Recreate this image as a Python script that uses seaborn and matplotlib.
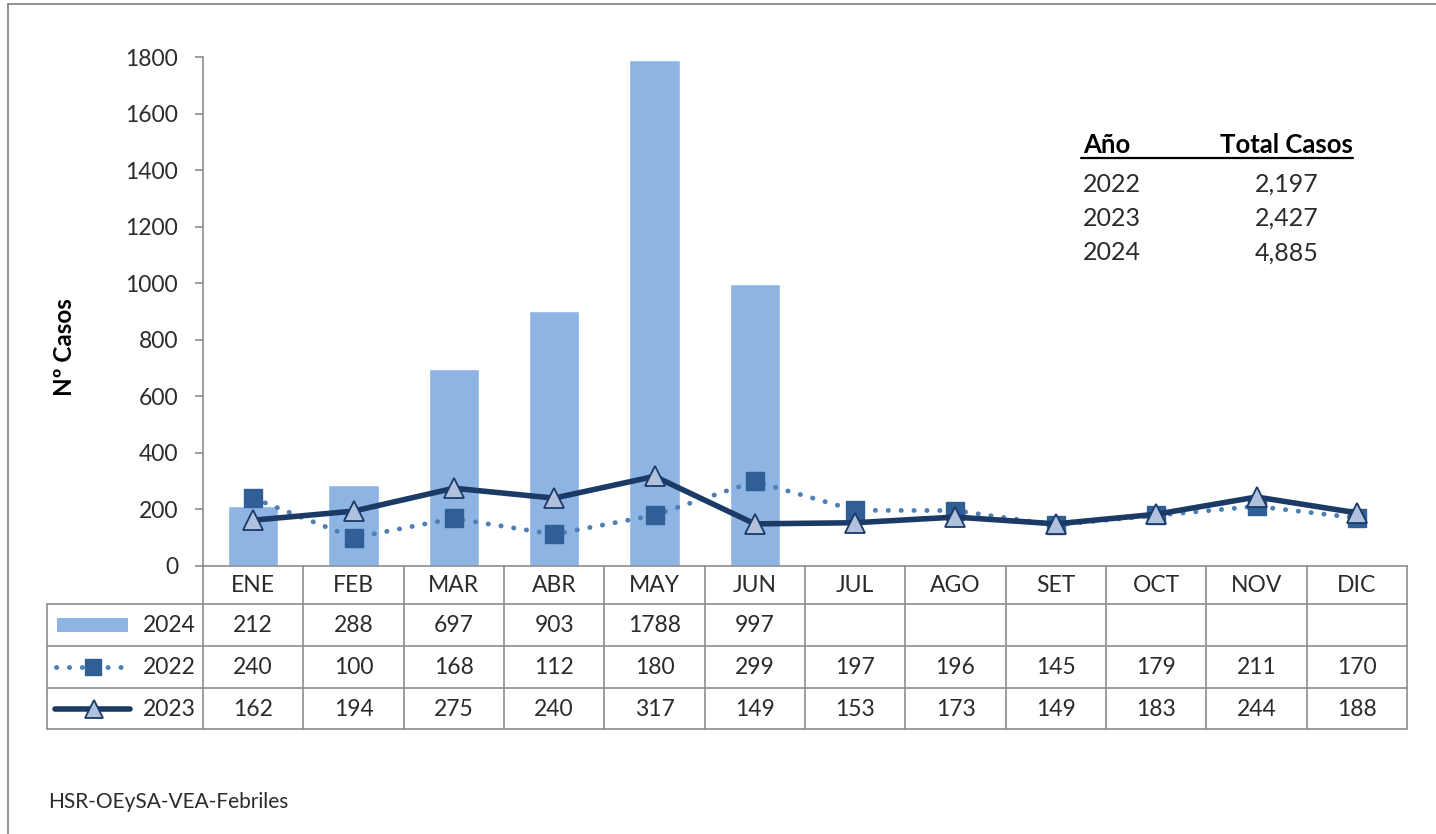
import numpy as np
import pandas as pd
import matplotlib
matplotlib.use("Agg")
import matplotlib.pyplot as plt
from matplotlib.lines import Line2D
from matplotlib.patches import Rectangle
import seaborn as sns

months = ["ENE", "FEB", "MAR", "ABR", "MAY", "JUN", "JUL", "AGO", "SET", "OCT", "NOV", "DIC"]
v2024 = [212, 288, 697, 903, 1788, 997, None, None, None, None, None, None]
v2022 = [240, 100, 168, 112, 180, 299, 197, 196, 145, 179, 211, 170]
v2023 = [162, 194, 275, 240, 317, 149, 153, 173, 149, 183, 244, 188]
tot_years = ["2022", "2023", "2024"]
tot_vals = ["2,197", "2,427", "4,885"]
ylabel = "Nº Casos"
source = "HSR-OEySA-VEA-Febriles"

sns.set_theme(style="white")
plt.rcParams["font.family"] = ["Lato", "DejaVu Sans"]

W, H = 1436, 834
fig = plt.figure(figsize=(W / 100, H / 100), dpi=100)

def fx(px):
    return px / W

def fy(py):
    return 1 - py / H

AX_L, AX_R, AX_T, AX_B = 203, 1407, 57, 566
ax = fig.add_axes([fx(AX_L), fy(AX_B), fx(AX_R) - fx(AX_L), fy(AX_T) - fy(AX_B)])

BAR_C = "#8DB4E2"
L22_C = "#4F7FB5"
M22_C = "#2F5F96"
L23_C = "#1B3A66"
TRI_C = "#AFC1DC"
GRID_C = "#8C8C8C"
TXT_C = "#2b2b2b"
FS = 16.5

df = pd.DataFrame({"mes": months, "v": [np.nan if v is None else v for v in v2024]})
sns.barplot(data=df, x="mes", y="v", order=months, color=BAR_C, saturation=1,
            width=0.5, ax=ax, zorder=1)

xpos = np.arange(len(months))
sns.lineplot(x=xpos, y=v2022, ax=ax, color=L22_C, lw=3.5, zorder=3,
             linestyle=(0, (0.05, 2.6)), dash_capstyle="round")
ax.plot(xpos, v2022, ls="none", marker="s", ms=13, mfc=M22_C, mec=M22_C, zorder=4)
sns.lineplot(x=xpos, y=v2023, ax=ax, color=L23_C, lw=4.0, zorder=5)
ax.plot(xpos, v2023, ls="none", marker="^", ms=15, mfc=TRI_C, mec=L23_C, mew=1.3, zorder=6)

ax.set_xlim(-0.5, 11.5)
ax.set_ylim(0, 1800)
ax.set_yticks(range(0, 1801, 200))
ax.set_xticks([])
ax.set_xlabel("")
ax.set_ylabel("")
for s in ["top", "right"]:
    ax.spines[s].set_visible(False)
for s in ["left", "bottom"]:
    ax.spines[s].set_color(GRID_C)
    ax.spines[s].set_linewidth(1.2)
ax.tick_params(axis="y", which="both", left=True, length=6, width=1.2, color=GRID_C,
               direction="out", pad=12, labelsize=FS, labelcolor=TXT_C)

fig.text(fx(64), fy(347), ylabel, rotation=90, ha="center", va="center",
         fontsize=17.5, fontweight="bold", color="black")

# data table
colw = (AX_R - AX_L) / 12
rows_y = [566, 604, 646, 688, 729]
TL = 47

def hline(x0, x1, y):
    fig.add_artist(Line2D([fx(x0), fx(x1)], [fy(y), fy(y)], color=GRID_C, lw=1.2))

def vline(x, y0, y1):
    fig.add_artist(Line2D([fx(x), fx(x)], [fy(y0), fy(y1)], color=GRID_C, lw=1.2))

for y in rows_y[1:]:
    hline(TL, AX_R, y)
for k in range(13):
    vline(AX_L + colw * k, 566, 729)
vline(TL, 604, 729)

hdr_c = (566 + 604) / 2
for i, m in enumerate(months):
    fig.text(fx(AX_L + colw * (i + 0.5)), fy(hdr_c + 1), m, ha="center", va="center",
             fontsize=FS, color=TXT_C)

series_rows = [("2024", v2024), ("2022", v2022), ("2023", v2023)]
for r, (lab, vals) in enumerate(series_rows):
    yc = (rows_y[r + 1] + rows_y[r + 2]) / 2
    fig.text(fx(196), fy(yc + 1), lab, ha="right", va="center", fontsize=FS, color=TXT_C)
    for i, v in enumerate(vals):
        if v is None:
            continue
        fig.text(fx(AX_L + colw * (i + 0.5)), fy(yc + 1), str(v), ha="center", va="center",
                 fontsize=FS, color=TXT_C)

# legend keys
yc0 = (rows_y[1] + rows_y[2]) / 2
fig.add_artist(Rectangle((fx(57), fy(yc0 + 7)), fx(128) - fx(57), fy(yc0 - 7) - fy(yc0 + 7),
                         color=BAR_C, lw=0))
yc1 = (rows_y[2] + rows_y[3]) / 2
fig.add_artist(Line2D([fx(56), fx(130)], [fy(yc1), fy(yc1)], color=L22_C, lw=3.5,
                      linestyle=(0, (0.05, 2.6)), dash_capstyle="round"))
fig.add_artist(Line2D([fx(93)], [fy(yc1)], ls="none", marker="s", ms=11, mfc=M22_C, mec=M22_C))
yc2 = (rows_y[3] + rows_y[4]) / 2
fig.add_artist(Line2D([fx(55), fx(130)], [fy(yc2), fy(yc2)], color=L23_C, lw=4.0,
                      solid_capstyle="round"))
fig.add_artist(Line2D([fx(94)], [fy(yc2)], ls="none", marker="^", ms=13, mfc=TRI_C,
                      mec=L23_C, mew=1.3))

# totals inset
fig.text(fx(1083), fy(145), "Año", ha="left", va="center", fontsize=18.5,
         fontweight="bold", color="black")
fig.text(fx(1353), fy(145), "Total Casos", ha="right", va="center", fontsize=18.5,
         fontweight="bold", color="black")
fig.add_artist(Line2D([fx(1081), fx(1353)], [fy(158), fy(158)], color="black", lw=1.6))
for j, (yy, vv) in enumerate(zip(tot_years, tot_vals)):
    ypx = 184 + 34.5 * j
    fig.text(fx(1083), fy(ypx), yy, ha="left", va="center", fontsize=18, color=TXT_C)
    fig.text(fx(1319), fy(ypx), vv, ha="right", va="center", fontsize=18, color=TXT_C)

fig.text(fx(48), fy(802), source, ha="left", va="center", fontsize=15, color=TXT_C)

# outer frame
fig.add_artist(Line2D([fx(8), fx(8)], [fy(4), 0], color="#7f7f7f", lw=1.2))
fig.add_artist(Line2D([fx(8), 1], [fy(4), fy(4)], color="#7f7f7f", lw=1.2))

fig.savefig("out.png", dpi=100)
